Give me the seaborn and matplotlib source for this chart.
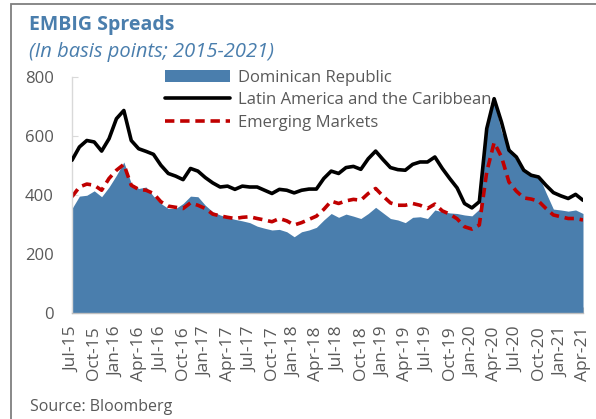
import numpy as np
import pandas as pd
import matplotlib
matplotlib.use("Agg")
import matplotlib.pyplot as plt
import seaborn as sns
from matplotlib.patches import Rectangle, Patch
from matplotlib.lines import Line2D

# ---------------- data (monthly, Jul-15 .. Apr-21) ----------------
months = pd.date_range("2015-07-01", "2021-04-01", freq="MS")

dominican_republic = [
    355, 397, 400, 415, 395, 428, 468, 513, 440, 423, 428, 397, 372, 355, 355, 372, 397, 395,
    366, 344, 333, 325, 318, 313, 307, 295, 288, 282, 284, 276, 259, 276, 282, 291, 316, 338,
    325, 336, 329, 321, 338, 359, 340, 321, 316, 307, 325, 327, 321, 350, 344, 340, 338,
    333, 330, 353, 615, 722, 615, 564, 519, 482, 470, 468, 409, 353, 350, 346, 350, 338,
]
latin_america = [
    519, 564, 586, 581, 550, 592, 660, 688, 586, 558, 549, 539, 502, 474, 465, 453, 491, 482,
    460, 442, 428, 431, 420, 431, 428, 428, 417, 406, 420, 417, 408, 417, 421, 421, 457, 482,
    474, 494, 498, 488, 524, 550, 521, 494, 487, 485, 505, 513, 513, 530, 491, 457, 425,
    372, 357, 378, 626, 728, 648, 553, 530, 485, 468, 462, 434, 409, 398, 389, 403, 383,
]
emerging_markets = [
    395, 428, 438, 434, 417, 457, 485, 505, 434, 420, 417, 406, 378, 363, 359, 355, 374, 366,
    355, 336, 330, 325, 321, 325, 327, 321, 316, 310, 321, 313, 299, 307, 318, 329, 352, 380,
    372, 381, 386, 383, 406, 423, 397, 374, 366, 366, 372, 366, 355, 370, 347, 336, 320,
    293, 285, 299, 479, 579, 530, 445, 414, 391, 387, 380, 355, 333, 327, 321, 321, 316,
]
series_names = ["Dominican Republic", "Latin America and the Caribbean", "Emerging Markets"]
tick_labels = [m.strftime("%b-%y") for m in months[::3]]
y_ticks = [0, 200, 400, 600, 800]

title = "EMBIG Spreads"
subtitle = "(In basis points; 2015-2021)"
source = "Source: Bloomberg"

# ---------------- styling ----------------
BLUE = "#4A7EAD"
RED = "#C00000"
GREY_TXT = "#595959"
TITLE_CLR = "#4A7EAD"
FONT = ["Open Sans", "DejaVu Sans"]

sns.set_theme(style="white")
plt.rcParams["font.family"] = FONT

df = pd.DataFrame({
    "idx": np.arange(len(months)),
    series_names[0]: dominican_republic,
    series_names[1]: latin_america,
    series_names[2]: emerging_markets,
})

W, H = 596, 419
fig = plt.figure(figsize=(W / 100, H / 100), dpi=100)
ax = fig.add_axes([72 / W, 1 - 313 / H, (583 - 72) / W, (313 - 77.5) / H])

# area for Dominican Republic
ax.fill_between(df["idx"], 0, df[series_names[0]], color=BLUE, linewidth=0, zorder=1)
# lines
sns.lineplot(data=df, x="idx", y=series_names[1], ax=ax, color="black", linewidth=2.6,
             zorder=3, legend=False)
sns.lineplot(data=df, x="idx", y=series_names[2], ax=ax, color=RED, linewidth=2.6,
             zorder=2, legend=False)
ax.lines[-1].set_dashes((2.6, 1.6))

ax.set_xlim(0, len(months) - 1)
ax.set_ylim(0, 800)
ax.set_xlabel("")
ax.set_ylabel("")
ax.set_yticks(y_ticks)
ax.set_yticklabels([str(v) for v in y_ticks], fontsize=12, color=GREY_TXT)
ax.set_xticks(df["idx"][::3])
ax.set_xticklabels(tick_labels, rotation=90, fontsize=12.5, color=GREY_TXT)
ax.tick_params(axis="y", direction="in", length=4, width=0.8, color="#D9D9D9", pad=13, left=True)
ax.tick_params(axis="x", direction="in", length=4, width=0.8, color="#BFBFBF", pad=9.5, bottom=True)
for s in ["top", "right"]:
    ax.spines[s].set_visible(False)
ax.spines["left"].set_color("#D9D9D9")
ax.spines["left"].set_linewidth(1.0)
ax.spines["bottom"].set_color("#BFBFBF")
ax.spines["bottom"].set_linewidth(1.0)
ax.grid(False)

# legend
handles = [
    Patch(facecolor=BLUE, edgecolor="none"),
    Line2D([], [], color="black", linewidth=2.6),
    Line2D([], [], color=RED, linewidth=2.6, dashes=(2.6, 1.6)),
]
leg = fig.legend(handles, series_names, loc="upper left",
                 bbox_to_anchor=(165 / W, 1 - 70 / H), frameon=False,
                 fontsize=12, handlelength=3.9, handletextpad=0.45,
                 labelspacing=0.38, borderpad=0, borderaxespad=0)
for t in leg.get_texts():
    t.set_color(GREY_TXT)

# titles and source
fig.text(29 / W, 1 - 25 / H, title, fontsize=14, fontweight="bold", color=TITLE_CLR,
         ha="left", va="center")
fig.text(29 / W, 1 - 52 / H, subtitle, fontsize=14.5, fontstyle="italic", color=TITLE_CLR,
         ha="left", va="center")
fig.text(30 / W, 1 - 407 / H, source, fontsize=11.5, color=GREY_TXT, ha="left", va="center")

# outer frame (left and top edges visible)
fig.patches.append(Rectangle((10.5 / W, -0.1), 1.2, 1.1 - 4 / H + 0.0,
                             transform=fig.transFigure, fill=False,
                             edgecolor="#7F7F7F", linewidth=1.3))

fig.savefig("out.png", dpi=100)
